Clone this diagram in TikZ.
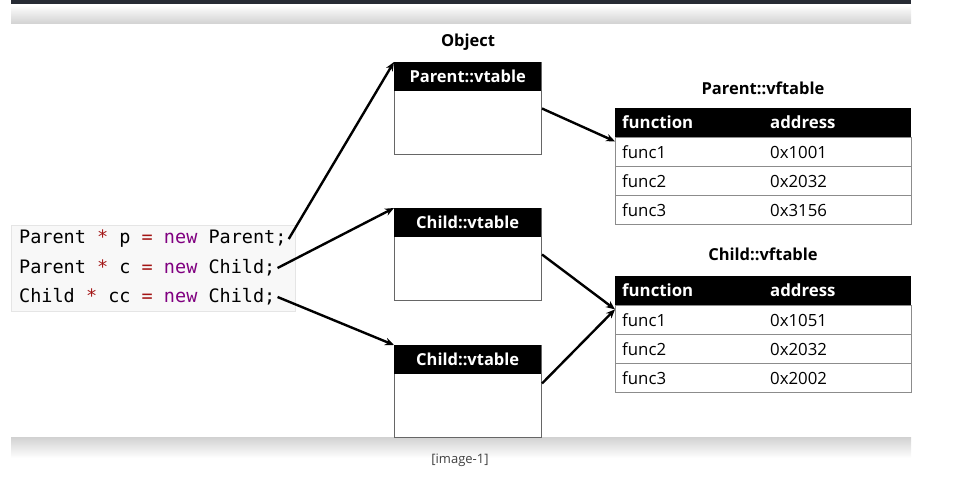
\documentclass[tikz,border=0pt]{standalone}
\usepackage{fontspec}
\setmainfont{Open Sans}
\setmonofont{DejaVu Sans Mono}
\usetikzlibrary{arrows.meta}
\definecolor{kwred}{HTML}{A31515}
\definecolor{kwpurple}{HTML}{800080}
\definecolor{codebg}{HTML}{F8F8F8}
\definecolor{barcol}{HTML}{262A33}
\tikzset{
  ptr/.style={-{Stealth[length=9pt,width=7.5pt]}, line width=2.4pt},
  objbox/.style={draw=black!60, line width=1pt, minimum width=147, minimum height=92, anchor=north west},
  objhead/.style={fill=black, text=white, font=\bfseries\fontsize{16.5}{18}\selectfont, minimum width=147, minimum height=29, anchor=north west, inner sep=0},
  tabhead/.style={fill=black, minimum width=296, minimum height=29, anchor=north west, inner sep=0},
  tabrow/.style={draw=black!45, line width=1pt, minimum width=296, minimum height=29, anchor=north west, inner sep=0},
  cell/.style={anchor=west, inner sep=0, font=\fontsize{16.8}{18}\selectfont},
  title/.style={font=\bfseries\fontsize{16.5}{18}\selectfont},
  codeline/.style={anchor=west, inner sep=0, font=\ttfamily\fontsize{18.5}{20}\selectfont}
}

\begin{document}
\begin{tikzpicture}[x=1pt, y=-1pt]
        \useasboundingbox (0,0) rectangle (956,481);
        % page bands
        \fill[barcol] (11,0) rectangle (911,5);
        \shade[top color=white, bottom color=black!18] (11,5) rectangle (911,24);
        \shade[top color=black!18, bottom color=white] (11,437) rectangle (911,458);
        \node[font=\fontsize{13}{15}\selectfont, text=black!75] (cap) at (460,460) {[image-1]};

        % code
        \node[draw=black!10, fill=codebg, minimum width=284, minimum height=86, anchor=north west] (code) at (11,225) {};
        \node[codeline] (L1) at (19,239) {Parent \textcolor{kwred}{*} p \textcolor{kwred}{=} \textcolor{kwpurple}{new} Parent;};
        \node[codeline] (L2) at (19,268) {Parent \textcolor{kwred}{*} c \textcolor{kwred}{=} \textcolor{kwpurple}{new} Child;};
        \node[codeline] (L3) at (19,297) {Child \textcolor{kwred}{*} cc \textcolor{kwred}{=} \textcolor{kwpurple}{new} Child;};

        % objects
        \node[title] (obj) at (468,42) {Object};
        \node[objbox] (P) at (394,62) {};
        \node[objhead] (Ph) at (394,62) {Parent::vtable};
        \node[objbox] (C1) at (394,208) {};
        \node[objhead] (C1h) at (394,208) {Child::vtable};
        \node[objbox] (C2) at (394,345) {};
        \node[objhead] (C2h) at (394,345) {Child::vtable};

        % Parent::vftable
        \node[title] (T1t) at (763,88) {Parent::vftable};
        \node[tabhead] (T1h) at (615,108) {};
        \node[cell, text=white, font=\bfseries\fontsize{16.8}{18}\selectfont] at (622,122.5) {function};
        \node[cell, text=white, font=\bfseries\fontsize{16.8}{18}\selectfont] at (770,122.5) {address};
        \foreach \f/\a [count=\i] in {func1/0x1001, func2/0x2032, func3/0x3156} {
            \node[tabrow] (T1r\i) at (615,{137+29*(\i-1)}) {};
            \node[cell] at ([xshift=7]T1r\i.west) {\f};
            \node[cell] at ([xshift=155]T1r\i.west) {\a};
        }

        % Child::vftable
        \node[title] (T2t) at (763,254) {Child::vftable};
        \node[tabhead] (T2h) at (615,276) {};
        \node[cell, text=white, font=\bfseries\fontsize{16.8}{18}\selectfont] at (622,290.5) {function};
        \node[cell, text=white, font=\bfseries\fontsize{16.8}{18}\selectfont] at (770,290.5) {address};
        \foreach \f/\a [count=\i] in {func1/0x1051, func2/0x2032, func3/0x2002} {
            \node[tabrow] (T2r\i) at (615,{305+29*(\i-1)}) {};
            \node[cell] at ([xshift=7]T2r\i.west) {\f};
            \node[cell] at ([xshift=155]T2r\i.west) {\a};
        }

        % pointers
        \draw[ptr] ([xshift=2]L1.east) -- (P.north west);
        \draw[ptr] ([xshift=2]L2.east) -- (C1.north west);
        \draw[ptr] ([xshift=2]L3.east) -- (C2.north west);
        \draw[ptr] (P.east) -- ([yshift=-4]T1h.south west);
        \draw[ptr] (C1.east) -- ([yshift=-4]T2h.south west);
        \draw[ptr] ([yshift=8]C2.east) -- ([yshift=-4]T2h.south west);
    \end{tikzpicture}
\end{document}
